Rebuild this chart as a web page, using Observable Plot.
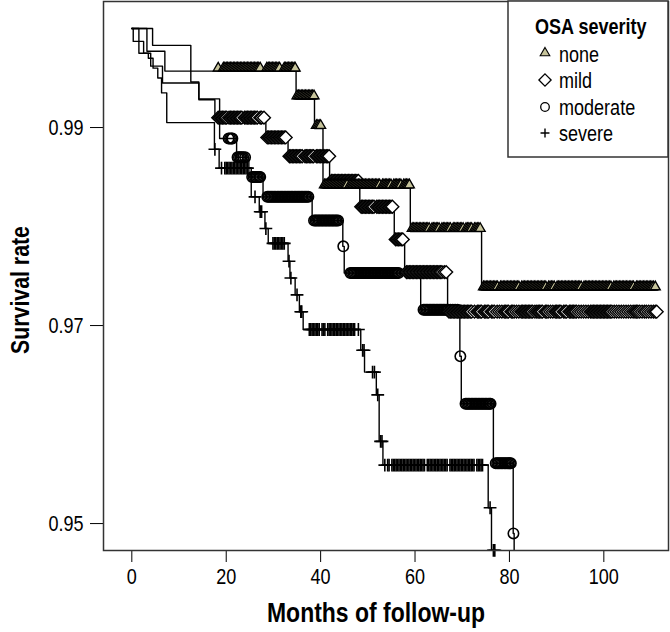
<!DOCTYPE html>
<html><head><meta charset="utf-8">
<script src="https://cdn.jsdelivr.net/npm/d3@7"></script>
<script src="https://cdn.jsdelivr.net/npm/@observablehq/plot@0.6"></script>
<style>
body{margin:0;background:#fff;}
#wrap{position:relative;width:670px;height:632px;font-family:"Liberation Sans",Arial,sans-serif;}
#wrap svg{display:block;}
#overlay{position:absolute;left:0;top:0;pointer-events:none;}
</style></head><body><div id="wrap"></div>
<script>
// Step curves (months, survival)
const noneTime = [0, 3.2, 7.0, 34.8, 38.7, 40.5, 59.0, 74.1, 111.3];
const noneSurv = [1, 0.9977, 0.9957, 0.9929, 0.9899, 0.9839, 0.9795, 0.9736, 0.9736];
const mildTime = [0, 4.4, 12.5, 14.2, 17.6, 28.4, 33.1, 41.9, 48.3, 55.6, 57.8, 66.9, 111.3];
const mildSurv = [1, 0.9983, 0.9946, 0.9928, 0.9910, 0.9890, 0.9871, 0.9846, 0.9820, 0.9787, 0.9754, 0.9714, 0.9714];
const moderateTime = [0, 0.3, 1.5, 4.0, 6.5, 14.2, 18.6, 22.2, 24.8, 27.8, 38.2, 44.7, 45.0, 61.2, 69.5, 69.8, 76.6, 80.8, 81.0];
const moderateSurv = [1, 0.9987, 0.9975, 0.9962, 0.9945, 0.9929, 0.9889, 0.9870, 0.9850, 0.9830, 0.9806, 0.9780, 0.9753, 0.9716, 0.9669, 0.9621, 0.9561, 0.9490, 0.9450];
const severeTime = [0, 1.5, 2.5, 3.5, 4.5, 5.5, 6.3, 7.4, 17.5, 18.5, 25.3, 27.0, 28.2, 28.9, 33.1, 33.5, 34.6, 35.5, 36.3, 48.5, 49.3, 51.8, 52.4, 53.2, 75.5, 76.2, 77.0];
const severeSurv = [1, 0.9987, 0.9975, 0.9970, 0.9960, 0.9950, 0.9935, 0.9905, 0.9878, 0.9859, 0.9830, 0.9815, 0.9798, 0.9783, 0.9765, 0.9748, 0.9731, 0.9714, 0.9696, 0.9675, 0.9653, 0.9630, 0.9583, 0.9559, 0.9516, 0.9473, 0.9473];

// Censoring times (months)
const noneCensor = [18.3, 19.4,19.7,20.0,20.3,20.6,20.9,21.2,21.5,21.8,22.1,22.4,22.7,23.0,23.3,23.6,23.9,24.2,24.5,24.8,25.1,25.4,25.7,26.0,26.3,26.6,26.9,27.2,
  28.6,28.9,29.2,29.5,29.8,30.1,30.4,30.7,31.0,31.3, 32.3,32.6,32.9,33.2,33.5,33.8,34.1,34.4,34.6,
  35.0,35.3,35.6,35.9,36.2,36.5,36.8,37.1,37.4,37.7,38.0,38.3,38.6,
  39.1,39.4,39.7,40.0,
  40.8,41.1,41.4,41.7,42.0,42.3,42.6,42.9,43.2,43.5,43.8,44.1,44.4,44.7,45.0,45.3,45.6,46.2,46.5,46.8,47.1,47.4,47.7,48.0,48.3,48.6,48.9,49.2,49.5,49.8,50.1,50.4,50.7,51.0,51.3,51.6,51.9,52.2,52.5,53.1,53.4,53.7,54.0,54.3,54.6,54.9,55.5,55.8,56.1,56.4,56.7,57.0,57.6,57.9,58.2,58.5,58.8,
  59.4,59.7,60.0,60.3,60.6,60.9,61.2,61.5,61.8,62.1,62.4,62.7,63.0,63.6,63.9,64.2,64.5,64.8,65.1,65.7,66.0,66.3,66.6,66.9,67.2,67.5,68.1,68.4,68.7,69.0,69.3,69.6,69.9,70.2,70.8,71.1,71.4,71.7,72.0,72.6,72.9,73.2,73.5,73.8,
  74.5,74.8,75.1,75.4,75.7,76.0,76.3,76.6,76.9,77.2,77.5,78.1,78.4,78.7,79.0,79.3,79.6,79.9,80.2,80.5,80.8,81.1,81.4,81.7,82.0,82.6,82.9,83.2,83.5,83.8,84.1,84.4,84.7,85.0,85.3,85.6,85.9,86.2,86.5,86.8,87.1,87.4,87.7,88.3,88.6,88.9,89.2,89.5,90.1,90.4,90.7,91.0,91.3,91.6,91.9,92.2,92.5,92.8,93.1,93.4,93.7,94.0,94.3,94.6,94.9,95.2,95.8,96.1,96.4,96.7,97.0,97.3,97.6,97.9,98.2,98.5,98.8,99.1,99.4,99.7,100.0,100.3,100.6,100.9,101.2,101.5,102.1,102.4,102.7,103.0,103.3,103.6,103.9,104.2,104.5,104.8,105.1,105.4,105.7,106.0,106.3,106.9,107.2,107.5,107.8,108.1,108.4,108.7,109.0,109.3,109.6,109.9,110.2,110.5,110.9];
const mildCensor = [18.3,18.6,18.9,19.2,19.5,19.8,20.1,20.6,20.9,21.2,21.5,21.8,22.1,22.4,22.7,23.0,23.3,23.9,24.2,24.5,24.8,25.1,25.4,25.7,26.0,26.3,26.6,27.2,27.5,28.0,
  28.7,29.0,29.3,29.6,29.9,30.2,30.5,30.8,31.1,31.4,31.7,32.0,32.3,32.6,
  33.4,33.7,34.0,34.3,34.6,34.9,35.2,35.5,35.8,36.1,36.7,37.0,37.3,37.6,37.9,38.2,38.5,39.1,39.4,39.7,40.0,40.3,40.6,40.9,41.2,41.5,41.8,
  42.3,42.6,42.9,43.2,43.5,43.8,44.1,44.4,44.7,45.0,45.3,45.6,45.9,46.2,46.5,46.8,47.1,47.4,47.7,48.0,
  48.6,48.9,49.2,49.5,49.8,50.1,50.4,50.7,51.0,51.3,51.9,52.2,52.5,52.8,53.1,53.4,53.7,54.0,54.3,54.6,54.9,55.2,
  55.9,56.2,56.5,56.8,57.1,57.4,
  58.2,58.5,58.8,59.1,59.4,59.7,60.0,60.3,60.6,60.9,61.2,61.5,61.8,62.1,62.4,62.7,63.0,63.3,63.6,63.9,64.2,64.5,64.8,65.1,65.4,65.7,66.2,66.6,
  67.2,67.5,67.8,68.1,68.4,68.7,69.0,69.3,69.6,69.9,70.2,70.5,70.8,71.1,71.4,71.7,72.0,72.6,73.2,73.5,73.8,74.1,74.7,75.0,75.3,75.6,76.2,76.5,76.8,77.4,77.9,78.4,78.9,79.2,79.5,79.8,80.4,80.7,81.0,81.5,82.0,82.5,82.8,83.1,83.4,83.7,84.0,84.3,84.6,84.9,85.4,85.8,86.1,86.4,86.7,87.0,87.6,87.9,88.2,88.7,89.2,89.7,90.0,90.3,90.6,90.9,91.5,91.8,92.1,92.7,93.0,93.3,93.6,93.9,94.2,94.7,95.2,95.7,96.2,96.7,97.2,97.5,97.8,98.1,98.4,98.7,99.0,99.3,99.6,99.9,100.2,100.5,100.8,101.1,101.4,101.7,102.2,102.7,103.2,103.7,104.2,104.7,105.2,105.7,106.2,106.6,106.9,107.2,107.6,108.1,108.6,109.0,109.5,110.0,110.5,110.9,111.2];
const moderateCensor = [20.5,20.8,21.1,21.3, 22.4,22.7,23.0,23.3,23.6,24.0, 25.5,25.8,26.1,26.4,26.7,27.0,27.2,
  28.7,29.0,29.3,29.6,29.9,30.2,30.5,30.8,31.1,31.4,31.7,32.0,32.3,32.6,32.9,33.2,33.5,33.8,34.1,34.4,34.7,35.0,35.3,35.6,35.9,36.2,36.5,36.8,37.1,37.4,
  38.6,38.9,39.2,39.5,39.8,40.1,40.4,40.7,41.0,41.3,41.6,41.9,42.2,42.5,42.8,43.1,43.4,43.7, 44.8,
  46.3,46.6,46.9,47.2,47.5,47.8,48.1,48.4,48.7,49.0,49.3,49.6,49.9,50.2,50.5,50.8,51.1,51.4,51.7,52.0,52.3,52.6,52.9,53.2,53.5,53.8,54.1,54.4,54.7,55.0,55.3,55.6,55.9,56.2,56.5,
  61.8,62.1,62.4,62.7,63.0,63.3,63.6,63.9,64.2,64.5,64.8,65.1,65.4,65.7,66.0,66.3,66.6,67.0,67.5,68.0,68.5,69.0, 69.6,
  70.7,71.0,71.3,71.6,71.9,72.2,72.5,72.8,73.1,73.4,73.7,74.0,74.3,74.6,74.9,75.2,75.5,75.8,76.0,
  77.1,77.4,77.7,78.0,78.3,78.6,78.9,79.2,79.5,79.8,80.1,80.3, 80.85];
const severeCensor = [17.6, 19.0,19.7,20.0,20.3,20.6,20.9,21.2,21.5,21.8,22.1,22.4,22.7,23.0,23.3,23.6,23.9,24.2,24.5, 26.1, 27.2,27.5, 28.4,
  29.9,30.2,30.5,30.8,31.1,31.4,31.7,32.0,32.3, 33.3, 33.7, 35.0, 35.8,36.0,
  37.6,37.9,38.2,38.5,38.8,39.1,39.4,39.7,40.3,40.6,40.9,41.5,41.8,42.1,42.4,42.7,43.0,43.3,43.6,43.9,44.2,44.5,44.8,45.1,45.4,45.7,46.0,46.3,46.6,46.9,47.2,48.0,
  48.9,49.2, 51.0,51.4, 52.1, 52.7,53.0,
  53.6,54.2,54.5,55.1,55.4,55.7,56.0,56.3,56.6,56.9,57.2,57.5,57.8,58.1,58.4,58.7,59.0,59.3,59.6,59.9,60.2,60.5,60.8,61.1,61.4,61.7,62.0,62.6,62.9,63.2,63.5,63.8,64.1,64.4,64.7,65.0,65.3,65.6,65.9,66.2,66.5,66.8,67.4,67.7,68.0,68.3,68.6,68.9,69.2,69.5,69.8,70.1,70.4,70.7,71.0,71.3,71.6,71.9,72.2,72.5,73.1,73.4,73.7,74.0,74.3,
  75.9, 76.6,76.9];

const groups = ["none","mild","moderate","severe"];
const xTicks = [0,20,40,60,80,100];
const yTicks = [0.95,0.97,0.99];

function rows(times, surv){ return times.map((t,i)=>({t, s: surv[i]})); }
function survAt(times, surv, t){ let v = surv[0]; for(let i=0;i<times.length;i++){ if(times[i] <= t) v = surv[i]; } return v; }
function cens(c, times, surv){ return c.map(t=>({t, s: survAt(times, surv, t)})); }

const FONT = '"Liberation Sans",Arial,sans-serif';
const SX = 0.82; // narrow the glyphs like the reference's condensed face
const lineOpt = {x:"t", y:"s", curve:"step-after", stroke:"black", strokeWidth:1.4, clip:true};

const chart = Plot.plot({
  width: 670, height: 632,
  marginLeft: 103, marginRight: 2, marginTop: 1, marginBottom: 82,
  style: {fontFamily: FONT, fontSize: "22px", color: "#000", background: "white", overflow: "visible"},
  x: {domain: [-6, 113.7], ticks: xTicks, tickSize: 12, tickPadding: 6, label: null},
  y: {domain: [0.94728, 1.00273], ticks: yTicks, tickFormat: d3.format(".2f"), tickSize: 13, tickPadding: 7, label: null},
  marks: [
    Plot.line(rows(severeTime, severeSurv), lineOpt),
    Plot.line(rows(moderateTime, moderateSurv), lineOpt),
    Plot.line(rows(mildTime, mildSurv), lineOpt),
    Plot.line(rows(noneTime, noneSurv), lineOpt),
    Plot.dot(cens(severeCensor, severeTime, severeSurv), {x:"t", y:"s", symbol:"plus", r:4.2, stroke:"black", strokeWidth:1.6}),
    Plot.dot(cens(moderateCensor, moderateTime, moderateSurv), {x:"t", y:"s", symbol:"circle", r:5.2, fill:"none", stroke:"black", strokeWidth:1.6}),
    Plot.dot(cens(mildCensor, mildTime, mildSurv), {x:"t", y:"s", symbol:"diamond2", r:5.8, fill:"white", stroke:"black", strokeWidth:1.4}),
    Plot.dot(cens(noneCensor, noneTime, noneSurv), {x:"t", y:"s", symbol:"triangle", r:3.7, dy:-3, fill:"#c6c39a", stroke:"black", strokeWidth:1.35}),
    Plot.frame({stroke:"#333", strokeWidth:1.5})
  ]
});
// condense tick label glyphs horizontally, keeping their anchor points
chart.querySelectorAll("text").forEach(t => {
  const x = t.getAttribute("x");
  if (x !== null && x !== "" && !isNaN(+x)) t.setAttribute("x", (+x) / SX);
  const tr = t.getAttribute("transform") || "";
  t.setAttribute("transform", (tr + ` scale(${SX},1)`).trim());
});
const wrap = document.getElementById("wrap");
wrap.appendChild(chart);

// Overlay: axis titles and legend
const ov = d3.select(wrap).append("svg").attr("id","overlay").attr("width",670).attr("height",632)
  .style("font-family", FONT);
function ntext(sel, x, y, size, bold, str, anchor){
  return sel.append("text").attr("x", x / SX).attr("y", y).attr("transform", `scale(${SX},1)`)
    .attr("text-anchor", anchor || "start").style("font-size", size + "px").style("font-weight", bold ? "bold" : "normal").text(str);
}
ntext(ov, 376, 622, 28, true, "Months of follow-up", "middle");
ov.append("text").attr("transform",`translate(29,290) rotate(-90) scale(${SX},1)`).attr("text-anchor","middle")
  .style("font-size","26px").style("font-weight","bold").text("Survival rate");

const lg = ov.append("g");
lg.append("rect").attr("x",508).attr("y",1).attr("width",160).attr("height",156)
  .attr("fill","white").attr("stroke","#333").attr("stroke-width",1.5);
ntext(lg, 535, 34, 22, true, "OSA severity");
const labels = {none:"none", mild:"mild", moderate:"moderate", severe:"severe"};
const ly = [54, 80, 107, 133];
const sym = {
  none: {type: d3.symbolTriangle, size: 40, fill:"#c6c39a", sw:1.1, dy:-1},
  mild: {type: d3.symbolDiamond2, size: 95, fill:"white", sw:1.3, dy:0},
  moderate: {type: d3.symbolCircle, size: Math.PI*4.3*4.3, fill:"none", sw:1.3, dy:0},
  severe: {type: d3.symbolPlus, size: 28, fill:"none", sw:1.4, dy:0}
};
groups.forEach((g,i)=>{
  const s = sym[g];
  lg.append("path").attr("d", d3.symbol(s.type, s.size)()).attr("transform",`translate(545,${ly[i]+s.dy})`)
    .attr("fill", s.fill).attr("stroke","black").attr("stroke-width", s.sw);
  ntext(lg, 559, ly[i]+8, 22, false, labels[g]);
});
</script>
</body></html>
